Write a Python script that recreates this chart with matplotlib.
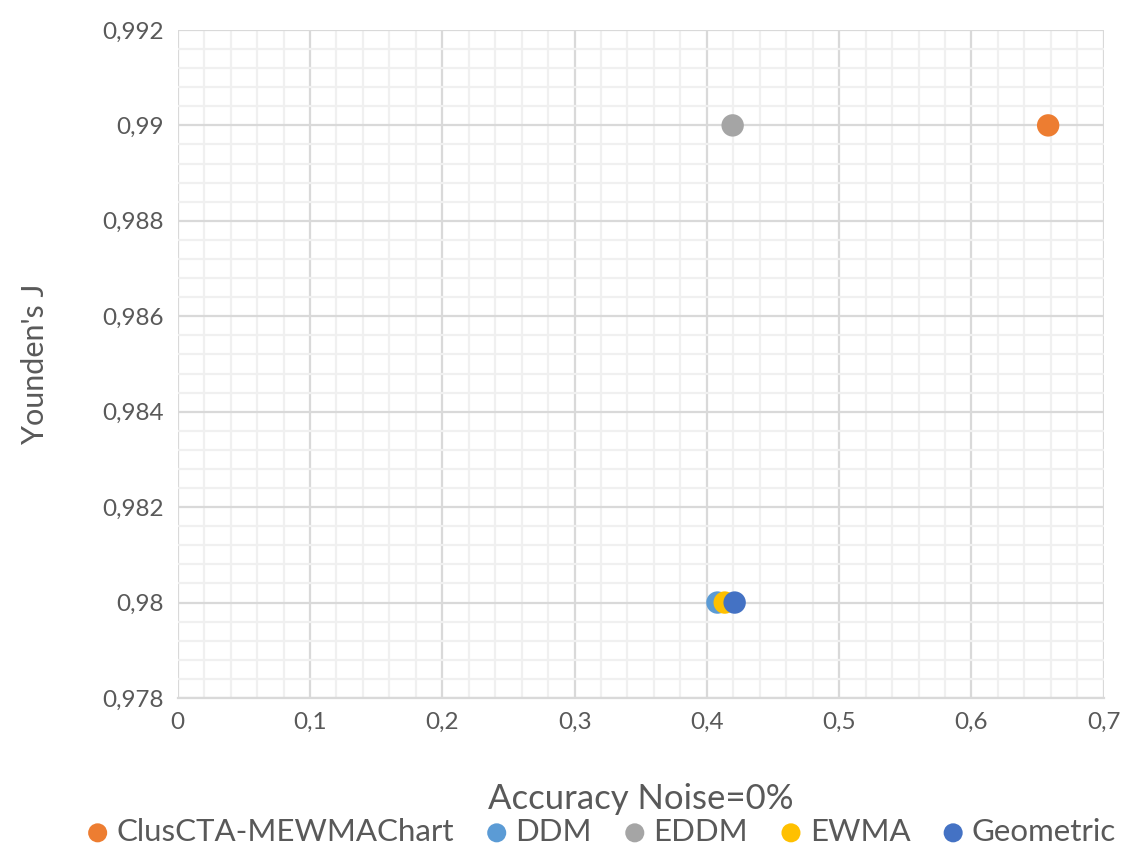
import numpy as np
import matplotlib.pyplot as plt
from matplotlib.ticker import MultipleLocator, FuncFormatter

plt.rcParams['font.family'] = ['Lato', 'DejaVu Sans']

series = ['ClusCTA-MEWMAChart', 'DDM', 'EDDM', 'EWMA', 'Geometric']
accuracy = [0.658, 0.408, 0.4195, 0.4135, 0.421]
youden = [0.99, 0.98, 0.99, 0.98, 0.98]
colors = ['#ED7D31', '#5B9BD5', '#A5A5A5', '#FFC000', '#4472C4']

text_color = '#595959'

fig = plt.figure(figsize=(11.32, 8.56), dpi=100)
ax = fig.add_axes([0.157, 0.1846, 0.818, 0.7804])

for name, x, y, c in zip(series, accuracy, youden, colors):
    ax.scatter([x], [y], s=260, color=c, label=name, zorder=3, edgecolors='none')

ax.set_xlim(0, 0.7)
ax.set_ylim(0.978, 0.992)
ax.xaxis.set_major_locator(MultipleLocator(0.1))
ax.xaxis.set_minor_locator(MultipleLocator(0.02))
ax.yaxis.set_major_locator(MultipleLocator(0.002))
ax.yaxis.set_minor_locator(MultipleLocator(0.0004))


def comma_fmt(v, pos):
    s = ('%.3f' % v).rstrip('0').rstrip('.')
    return s.replace('.', ',')


ax.xaxis.set_major_formatter(FuncFormatter(comma_fmt))
ax.yaxis.set_major_formatter(FuncFormatter(comma_fmt))

ax.grid(which='major', color='#d9d9d9', linewidth=1.6, zorder=0)
ax.grid(which='minor', color='#f0f0f0', linewidth=1.6, zorder=0)
ax.set_axisbelow(True)
for side in ['top', 'right', 'left']:
    ax.spines[side].set_visible(False)
ax.spines['bottom'].set_color('#d9d9d9')
ax.spines['bottom'].set_linewidth(1.6)

ax.tick_params(which='both', length=0, labelsize=17.5, colors=text_color, pad=10)

ax.set_xlabel('Accuracy Noise=0%', fontsize=25, color=text_color, labelpad=36)
ax.set_ylabel("Younden's J", fontsize=22, color=text_color, labelpad=38)

fig.legend(loc='center', bbox_to_anchor=(0.532, 0.028), ncol=5, frameon=False,
           fontsize=22.5, labelcolor=text_color, handlelength=0.6,
           handletextpad=0.3, columnspacing=1.07, markerscale=0.85)

fig.savefig('out.png', dpi=100)
